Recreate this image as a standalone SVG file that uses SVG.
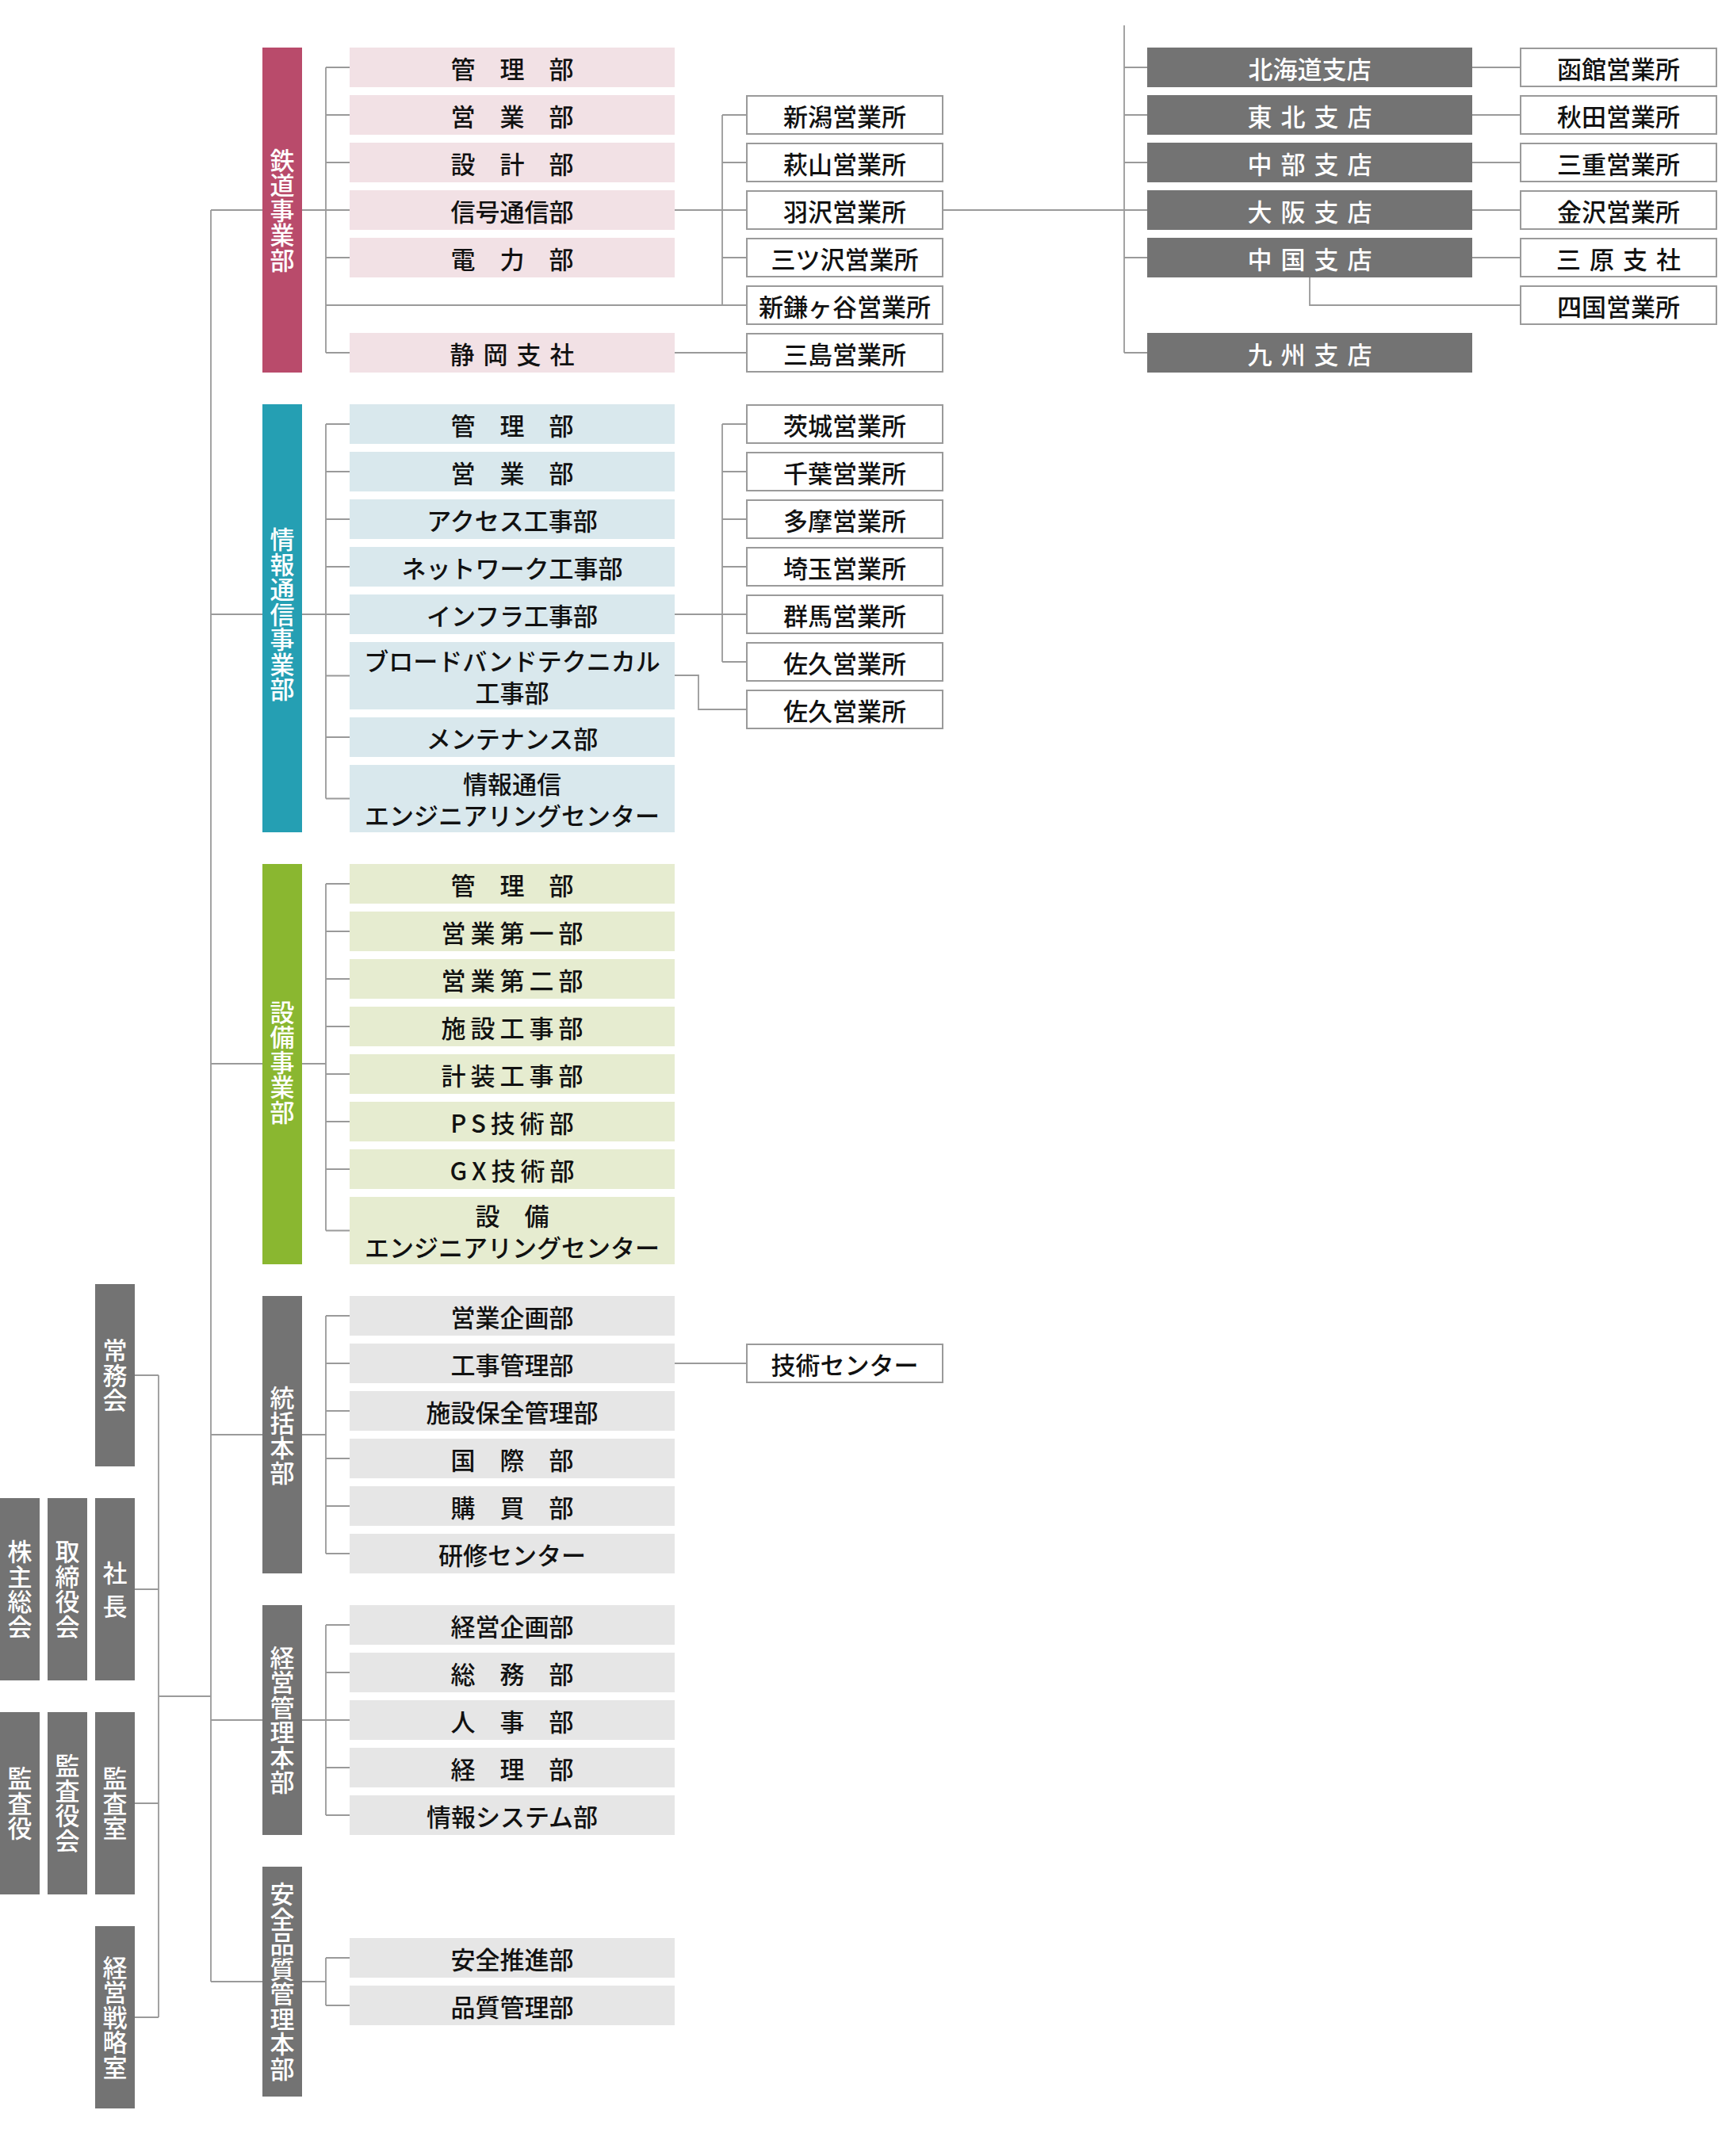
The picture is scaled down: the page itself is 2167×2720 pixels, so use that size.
<svg xmlns="http://www.w3.org/2000/svg" width="2167" height="2720" viewBox="0 0 2167 2720">
<defs>
<style>
.t{font-family:"Noto Sans CJK JP","Noto Sans CJK SC",sans-serif;font-size:31px;font-weight:500;text-anchor:middle;dominant-baseline:central}
.v{writing-mode:vertical-rl;letter-spacing:0.5px}
.vs{writing-mode:vertical-rl;letter-spacing:11px}
.d{fill:#111}
.w{fill:#fff}
.pb{fill:#b94b6b}.pk{fill:#f2e1e5}
.tb{fill:#259fb3}.tk{fill:#d9e8ed}
.gb{fill:#8ab730}.gk{fill:#e6ecd0}
.xb{fill:#737373}.xk{fill:#e6e6e6}
.ob{fill:#fff;stroke:#9a9a9a;stroke-width:2}
.s1{letter-spacing:6px}
.s2{letter-spacing:11px}
#connectors path{fill:none;stroke:#9a9a9a;stroke-width:1.8}
</style>
</defs>
<rect width="2167" height="2720" fill="#fff"/>

<g id="connectors">
<path d="M266 265V2500M266 265H331M266 775H331M266 1342H331M266 1810H331M266 2170H331M266 2500H331"/>
<path d="M170 1735H200M170 2005H200M170 2275H200M170 2545H200M200 1735V2545M200 2140H266"/>
<path d="M381 265H411M411 85V445M411 85H441M411 145H441M411 205H441M411 265H441M411 325H441M411 445H441M411 385H941"/>
<path d="M851 265H941M911 145V385M911 145H941M911 205H941M911 325H941M851 445H941"/>
<path d="M1190 265H1418M1418 32V445M1418 85H1447M1418 145H1447M1418 205H1447M1418 265H1447M1418 325H1447M1418 445H1447"/>
<path d="M1857 85H1918M1857 145H1918M1857 205H1918M1857 265H1918M1857 325H1918M1652 350V385H1918"/>
<path d="M381 775H411M411 535V1007.5M411 535H441M411 595H441M411 655H441M411 715H441M411 775H441M411 852.5H441M411 930H441M411 1007.5H441"/>
<path d="M851 775H941M911 535V835M911 535H941M911 595H941M911 655H941M911 715H941M911 835H941M851 852H881V895H941"/>
<path d="M381 1342H411M411 1115V1552.5M411 1115H441M411 1175H441M411 1235H441M411 1295H441M411 1355H441M411 1415H441M411 1475H441M411 1552.5H441"/>
<path d="M381 1810H411M411 1660V1960M411 1660H441M411 1720H441M411 1780H441M411 1840H441M411 1900H441M411 1960H441M851 1720H941"/>
<path d="M381 2170H411M411 2050V2290M411 2050H441M411 2110H441M411 2170H441M411 2230H441M411 2290H441"/>
<path d="M381 2500H411M411 2470V2530M411 2470H441M411 2530H441"/>
</g>

<!-- left column -->
<g id="jomukai"><rect class="xb" x="120" y="1620" width="50" height="230"/><text class="t w v" x="145" y="1735">常務会</text></g>
<g id="kabunushi"><rect class="xb" x="0" y="1890" width="50" height="230"/><text class="t w v" x="25" y="2005">株主総会</text></g>
<g id="torishimari"><rect class="xb" x="60" y="1890" width="50" height="230"/><text class="t w v" x="85" y="2005">取締役会</text></g>
<g id="shacho"><rect class="xb" x="120" y="1890" width="50" height="230"/><text class="t w vs" x="145" y="2010.5">社長</text></g>
<g id="kansayaku"><rect class="xb" x="0" y="2160" width="50" height="230"/><text class="t w v" x="25" y="2275">監査役</text></g>
<g id="kansayakukai"><rect class="xb" x="60" y="2160" width="50" height="230"/><text class="t w v" x="85" y="2275">監査役会</text></g>
<g id="kansashitsu"><rect class="xb" x="120" y="2160" width="50" height="230"/><text class="t w v" x="145" y="2275">監査室</text></g>
<g id="senryaku"><rect class="xb" x="120" y="2430" width="50" height="230"/><text class="t w v" x="145" y="2545">経営戦略室</text></g>

<!-- division bars -->
<g id="tetsudo"><rect class="pb" x="331" y="60" width="50" height="410"/><text class="t w v" x="356" y="265">鉄道事業部</text></g>
<g id="joho"><rect class="tb" x="331" y="510" width="50" height="540"/><text class="t w v" x="356" y="775">情報通信事業部</text></g>
<g id="setsubi"><rect class="gb" x="331" y="1090" width="50" height="505"/><text class="t w v" x="356" y="1340">設備事業部</text></g>
<g id="tokatsu"><rect class="xb" x="331" y="1635" width="50" height="350"/><text class="t w v" x="356" y="1811">統括本部</text></g>
<g id="keiei"><rect class="xb" x="331" y="2025" width="50" height="290"/><text class="t w v" x="356" y="2170">経営管理本部</text></g>
<g id="anzen"><rect class="xb" x="331" y="2355" width="50" height="290"/><text class="t w v" x="356" y="2500">安全品質管理本部</text></g>

<!-- rail departments -->
<g id="r1"><rect class="pk" x="441" y="60" width="410" height="50"/><text class="t d" x="646" y="85">管　理　部</text></g>
<g id="r2"><rect class="pk" x="441" y="120" width="410" height="50"/><text class="t d" x="646" y="145">営　業　部</text></g>
<g id="r3"><rect class="pk" x="441" y="180" width="410" height="50"/><text class="t d" x="646" y="205">設　計　部</text></g>
<g id="r4"><rect class="pk" x="441" y="240" width="410" height="50"/><text class="t d" x="646" y="265">信号通信部</text></g>
<g id="r5"><rect class="pk" x="441" y="300" width="410" height="50"/><text class="t d" x="646" y="325">電　力　部</text></g>
<g id="r6"><rect class="pk" x="441" y="420" width="410" height="50"/><text class="t d s2" x="651.5" y="445">静岡支社</text></g>

<!-- rail offices -->
<g id="ro1"><rect class="ob" x="942" y="121" width="247" height="48"/><text class="t d" x="1065.5" y="145">新潟営業所</text></g>
<g id="ro2"><rect class="ob" x="942" y="181" width="247" height="48"/><text class="t d" x="1065.5" y="205">萩山営業所</text></g>
<g id="ro3"><rect class="ob" x="942" y="241" width="247" height="48"/><text class="t d" x="1065.5" y="265">羽沢営業所</text></g>
<g id="ro4"><rect class="ob" x="942" y="301" width="247" height="48"/><text class="t d" x="1065.5" y="325">三ツ沢営業所</text></g>
<g id="ro5"><rect class="ob" x="942" y="361" width="247" height="48"/><text class="t d" x="1065.5" y="385">新鎌ヶ谷営業所</text></g>
<g id="ro6"><rect class="ob" x="942" y="421" width="247" height="48"/><text class="t d" x="1065.5" y="445">三島営業所</text></g>

<!-- branches -->
<g id="b1"><rect class="xb" x="1447" y="60" width="410" height="50"/><text class="t w" x="1652" y="85">北海道支店</text></g>
<g id="b2"><rect class="xb" x="1447" y="120" width="410" height="50"/><text class="t w s2" x="1657.5" y="145">東北支店</text></g>
<g id="b3"><rect class="xb" x="1447" y="180" width="410" height="50"/><text class="t w s2" x="1657.5" y="205">中部支店</text></g>
<g id="b4"><rect class="xb" x="1447" y="240" width="410" height="50"/><text class="t w s2" x="1657.5" y="265">大阪支店</text></g>
<g id="b5"><rect class="xb" x="1447" y="300" width="410" height="50"/><text class="t w s2" x="1657.5" y="325">中国支店</text></g>
<g id="b6"><rect class="xb" x="1447" y="420" width="410" height="50"/><text class="t w s2" x="1657.5" y="445">九州支店</text></g>

<!-- branch offices -->
<g id="bo1"><rect class="ob" x="1918" y="61" width="247" height="48"/><text class="t d" x="2041.5" y="85">函館営業所</text></g>
<g id="bo2"><rect class="ob" x="1918" y="121" width="247" height="48"/><text class="t d" x="2041.5" y="145">秋田営業所</text></g>
<g id="bo3"><rect class="ob" x="1918" y="181" width="247" height="48"/><text class="t d" x="2041.5" y="205">三重営業所</text></g>
<g id="bo4"><rect class="ob" x="1918" y="241" width="247" height="48"/><text class="t d" x="2041.5" y="265">金沢営業所</text></g>
<g id="bo5"><rect class="ob" x="1918" y="301" width="247" height="48"/><text class="t d s2" x="2047" y="325">三原支社</text></g>
<g id="bo6"><rect class="ob" x="1918" y="361" width="247" height="48"/><text class="t d" x="2041.5" y="385">四国営業所</text></g>

<!-- info departments -->
<g id="j1"><rect class="tk" x="441" y="510" width="410" height="50"/><text class="t d" x="646" y="535">管　理　部</text></g>
<g id="j2"><rect class="tk" x="441" y="570" width="410" height="50"/><text class="t d" x="646" y="595">営　業　部</text></g>
<g id="j3"><rect class="tk" x="441" y="630" width="410" height="50"/><text class="t d" x="646" y="655">アクセス工事部</text></g>
<g id="j4"><rect class="tk" x="441" y="690" width="410" height="50"/><text class="t d" x="646" y="715">ネットワーク工事部</text></g>
<g id="j5"><rect class="tk" x="441" y="750" width="410" height="50"/><text class="t d" x="646" y="775">インフラ工事部</text></g>
<g id="j6"><rect class="tk" x="441" y="810" width="410" height="85"/><text class="t d"><tspan x="646" y="832">ブロードバンドテクニカル</tspan><tspan x="646" y="872">工事部</tspan></text></g>
<g id="j7"><rect class="tk" x="441" y="905" width="410" height="50"/><text class="t d" x="646" y="930">メンテナンス部</text></g>
<g id="j8"><rect class="tk" x="441" y="965" width="410" height="85"/><text class="t d"><tspan x="646" y="987">情報通信</tspan><tspan x="646" y="1027">エンジニアリングセンター</tspan></text></g>

<!-- info offices -->
<g id="jo1"><rect class="ob" x="942" y="511" width="247" height="48"/><text class="t d" x="1065.5" y="535">茨城営業所</text></g>
<g id="jo2"><rect class="ob" x="942" y="571" width="247" height="48"/><text class="t d" x="1065.5" y="595">千葉営業所</text></g>
<g id="jo3"><rect class="ob" x="942" y="631" width="247" height="48"/><text class="t d" x="1065.5" y="655">多摩営業所</text></g>
<g id="jo4"><rect class="ob" x="942" y="691" width="247" height="48"/><text class="t d" x="1065.5" y="715">埼玉営業所</text></g>
<g id="jo5"><rect class="ob" x="942" y="751" width="247" height="48"/><text class="t d" x="1065.5" y="775">群馬営業所</text></g>
<g id="jo6"><rect class="ob" x="942" y="811" width="247" height="48"/><text class="t d" x="1065.5" y="835">佐久営業所</text></g>
<g id="jo7"><rect class="ob" x="942" y="871" width="247" height="48"/><text class="t d" x="1065.5" y="895">佐久営業所</text></g>

<!-- equipment departments -->
<g id="s1"><rect class="gk" x="441" y="1090" width="410" height="50"/><text class="t d" x="646" y="1115">管　理　部</text></g>
<g id="s2"><rect class="gk" x="441" y="1150" width="410" height="50"/><text class="t d s1" x="649" y="1175">営業第一部</text></g>
<g id="s3"><rect class="gk" x="441" y="1210" width="410" height="50"/><text class="t d s1" x="649" y="1235">営業第二部</text></g>
<g id="s4"><rect class="gk" x="441" y="1270" width="410" height="50"/><text class="t d s1" x="649" y="1295">施設工事部</text></g>
<g id="s5"><rect class="gk" x="441" y="1330" width="410" height="50"/><text class="t d s1" x="649" y="1355">計装工事部</text></g>
<g id="s6"><rect class="gk" x="441" y="1390" width="410" height="50"/><text class="t d s1" x="649" y="1415">PS技術部</text></g>
<g id="s7"><rect class="gk" x="441" y="1450" width="410" height="50"/><text class="t d s1" x="649" y="1475">GX技術部</text></g>
<g id="s8"><rect class="gk" x="441" y="1510" width="410" height="85"/><text class="t d"><tspan x="646" y="1532">設　備</tspan><tspan x="646" y="1572">エンジニアリングセンター</tspan></text></g>

<!-- general HQ -->
<g id="k1"><rect class="xk" x="441" y="1635" width="410" height="50"/><text class="t d" x="646" y="1660">営業企画部</text></g>
<g id="k2"><rect class="xk" x="441" y="1695" width="410" height="50"/><text class="t d" x="646" y="1720">工事管理部</text></g>
<g id="k3"><rect class="xk" x="441" y="1755" width="410" height="50"/><text class="t d" x="646" y="1780">施設保全管理部</text></g>
<g id="k4"><rect class="xk" x="441" y="1815" width="410" height="50"/><text class="t d" x="646" y="1840">国　際　部</text></g>
<g id="k5"><rect class="xk" x="441" y="1875" width="410" height="50"/><text class="t d" x="646" y="1900">購　買　部</text></g>
<g id="k6"><rect class="xk" x="441" y="1935" width="410" height="50"/><text class="t d" x="646" y="1960">研修センター</text></g>
<g id="gc"><rect class="ob" x="942" y="1696" width="247" height="48"/><text class="t d" x="1065.5" y="1720">技術センター</text></g>

<!-- management HQ -->
<g id="m1"><rect class="xk" x="441" y="2025" width="410" height="50"/><text class="t d" x="646" y="2050">経営企画部</text></g>
<g id="m2"><rect class="xk" x="441" y="2085" width="410" height="50"/><text class="t d" x="646" y="2110">総　務　部</text></g>
<g id="m3"><rect class="xk" x="441" y="2145" width="410" height="50"/><text class="t d" x="646" y="2170">人　事　部</text></g>
<g id="m4"><rect class="xk" x="441" y="2205" width="410" height="50"/><text class="t d" x="646" y="2230">経　理　部</text></g>
<g id="m5"><rect class="xk" x="441" y="2265" width="410" height="50"/><text class="t d" x="646" y="2290">情報システム部</text></g>

<!-- safety & quality HQ -->
<g id="a1"><rect class="xk" x="441" y="2445" width="410" height="50"/><text class="t d" x="646" y="2470">安全推進部</text></g>
<g id="a2"><rect class="xk" x="441" y="2505" width="410" height="50"/><text class="t d" x="646" y="2530">品質管理部</text></g>
</svg>
